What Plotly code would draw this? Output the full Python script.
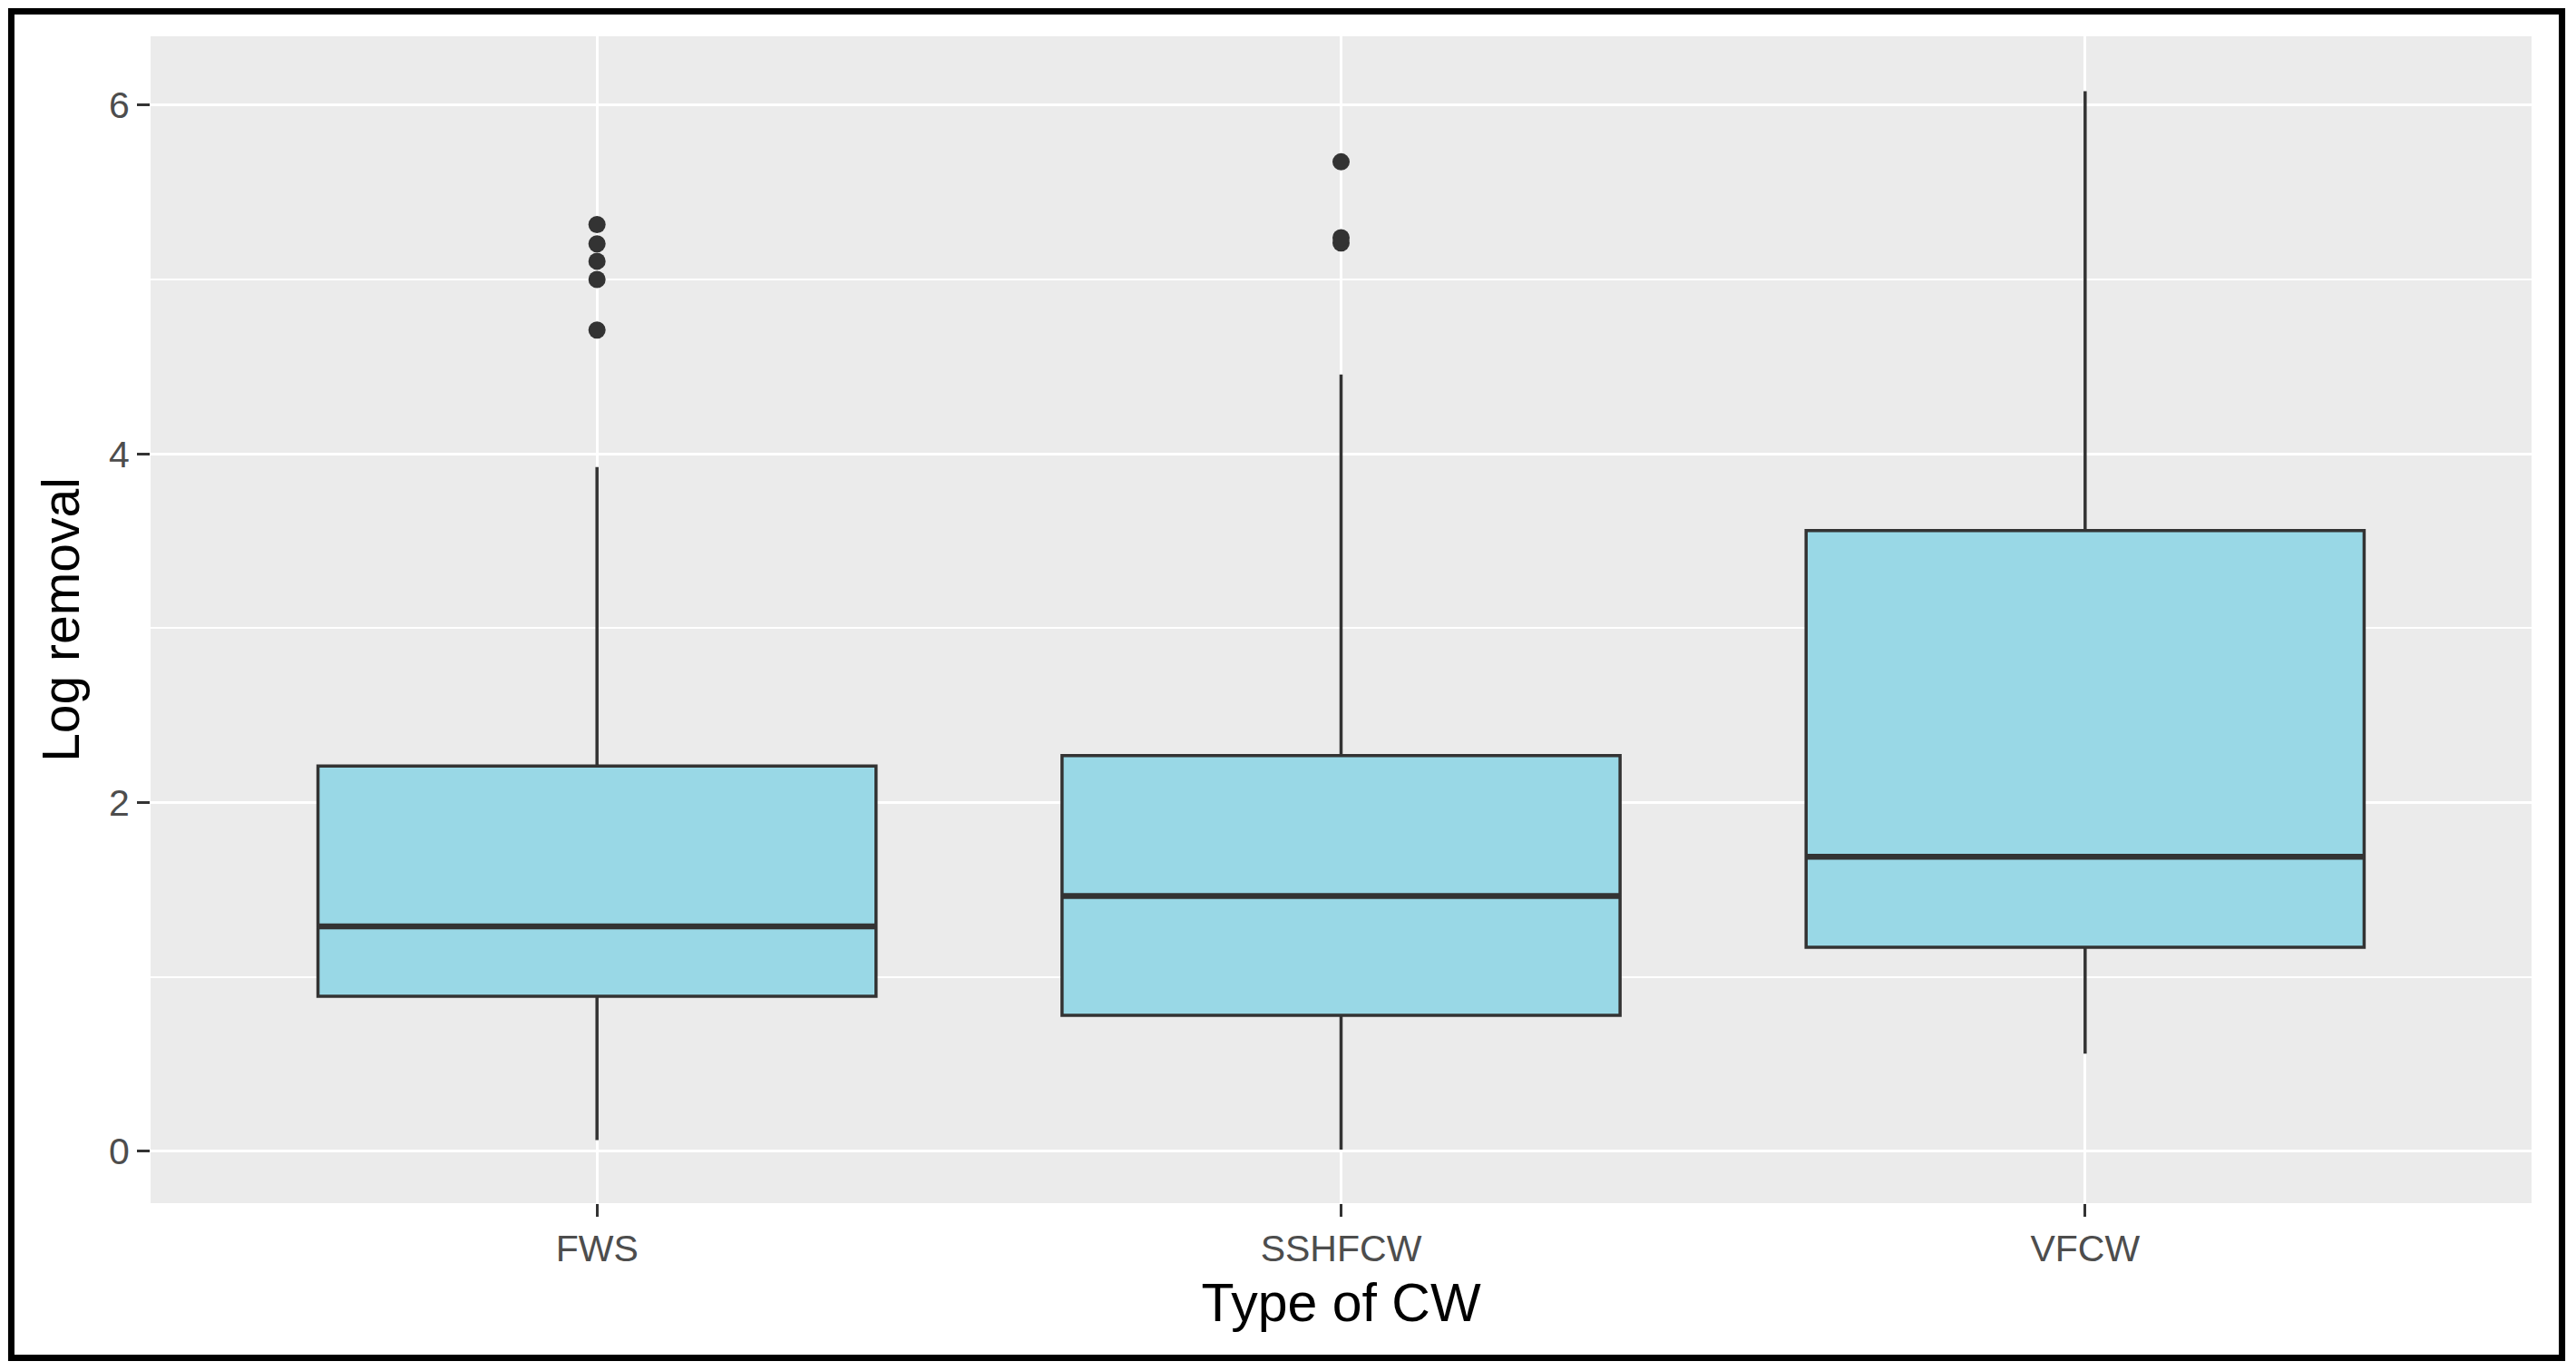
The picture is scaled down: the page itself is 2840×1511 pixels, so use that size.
import plotly.graph_objects as go

# ---- data ----
categories = ["FWS", "SSHFCW", "VFCW"]
q1_vals = [0.89, 0.78, 1.17]
median_vals = [1.29, 1.465, 1.69]
q3_vals = [2.21, 2.27, 3.56]
lower_whisker = [0.065, 0.01, 0.56]
upper_whisker = [3.925, 4.455, 6.08]
outliers_fws = [4.71, 5.0, 5.105, 5.205, 5.315]
outliers_sshfcw = [5.21, 5.24, 5.675]
outliers_vfcw = []
y_ticks = [0, 2, 4, 6]

# ---- style ----
FILL = "#99D8E6"
DARK = "#333333"
BOX_W = 0.75
FONT = "Liberation Sans, Arial, sans-serif"

fig = go.Figure()
positions = list(range(len(categories)))
outliers = [outliers_fws, outliers_sshfcw, outliers_vfcw]

for i, cat in enumerate(categories):
    fig.add_trace(go.Box(
        x=[positions[i]],
        q1=[q1_vals[i]], median=[median_vals[i]], q3=[q3_vals[i]],
        lowerfence=[lower_whisker[i]], upperfence=[upper_whisker[i]],
        width=BOX_W, whiskerwidth=0,
        fillcolor=FILL, line=dict(color=DARK, width=3.5),
        boxpoints=False, name=cat, showlegend=False,
    ))
    # thicker median line (ggplot fatten)
    fig.add_trace(go.Scatter(
        x=[positions[i] - BOX_W / 2, positions[i] + BOX_W / 2],
        y=[median_vals[i], median_vals[i]],
        mode="lines", line=dict(color=DARK, width=6.5),
        showlegend=False, hoverinfo="skip",
    ))
    if outliers[i]:
        fig.add_trace(go.Scatter(
            x=[positions[i]] * len(outliers[i]), y=outliers[i],
            mode="markers", marker=dict(color=DARK, size=19, line=dict(width=0)),
            showlegend=False,
        ))

# outer black frame
fig.add_shape(type="rect", xref="paper", yref="paper",
              x0=-0.0585, x1=1.0128, y0=-0.1326, y1=1.0214,
              line=dict(color="black", width=7), fillcolor="rgba(0,0,0,0)",
              layer="above")

# page body has an 8px margin, so the figure is 8px smaller and shifted
fig.update_layout(
    width=2832, height=1503,
    margin=dict(l=158, r=49, t=32, b=185),
    paper_bgcolor="white", plot_bgcolor="#EBEBEB",
    font=dict(family=FONT, color="#4D4D4D"),
    showlegend=False,
)
fig.update_xaxes(
    range=[-0.6, 2.6],
    tickmode="array", tickvals=positions, ticktext=categories,
    showgrid=True, gridcolor="white", gridwidth=3,
    zeroline=False, showline=False,
    ticks="outside", ticklen=14, tickwidth=3, tickcolor=DARK,
    tickfont=dict(size=41, color="#4D4D4D", family=FONT),
    title=dict(text="Type of CW", font=dict(size=59, color="black", family=FONT), standoff=16),
)
fig.update_yaxes(
    range=[-0.297, 6.395],
    tickmode="array", tickvals=y_ticks,
    showgrid=True, gridcolor="white", gridwidth=3,
    minor=dict(dtick=1, tick0=0, showgrid=True, gridcolor="white", gridwidth=1.5, ticks=""),
    zeroline=False, showline=False,
    ticks="outside", ticklen=14, tickwidth=3, tickcolor=DARK,
    tickfont=dict(size=41, color="#4D4D4D", family=FONT),
    title=dict(text="Log removal", font=dict(size=57, color="black", family=FONT), standoff=14),
)

fig.write_html("out.html")
